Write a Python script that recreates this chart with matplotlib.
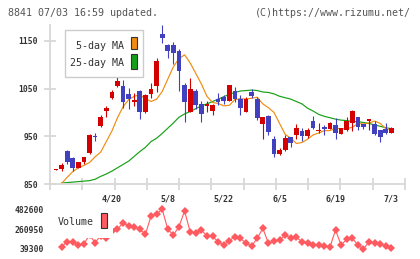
import matplotlib
matplotlib.use("Agg")
import matplotlib.pyplot as plt
import matplotlib.transforms as mtransforms
from matplotlib.patches import Rectangle
import numpy as np

# ---------------- data ----------------
opens = [879, 881, 919, 905, 884, 897, 914, 950, 972, 1003,
         1031, 1056, 1056, 1038, 1021, 1045, 1000, 1039, 1056, 1164,
         1141, 1142, 1129, 1058, 1002, 1045, 1018, 1014, 1004, 1028,
         1033, 1025, 1045, 1028, 1002, 1042, 1028, 975, 993, 944,
         913, 921, 948, 953, 961, 951, 982, 962, 969, 965,
         974, 955, 963, 977, 991, 976, 982, 975, 963, 965, 958]
highs = [881, 893, 921, 907, 897, 907, 955, 958, 995, 1014,
         1047, 1079, 1068, 1052, 1040, 1047, 1038, 1061, 1115, 1183,
         1144, 1148, 1133, 1061, 1072, 1049, 1025, 1025, 1018, 1040,
         1037, 1058, 1054, 1037, 1032, 1049, 1032, 991, 994, 951,
         925, 953, 949, 976, 967, 967, 993, 977, 974, 980,
         989, 967, 991, 1005, 991, 976, 986, 982, 964, 977, 969]
lows = [879, 877, 891, 877, 883, 892, 912, 940, 969, 991,
        1028, 1053, 1009, 1007, 1014, 986, 999, 1031, 1044, 1146,
        1114, 1101, 1045, 979, 1000, 1007, 981, 1000, 995, 1016,
        1018, 1024, 1021, 995, 1000, 1030, 984, 944, 953, 907,
        911, 920, 928, 944, 940, 947, 965, 956, 953, 965,
        944, 955, 961, 961, 963, 965, 963, 953, 939, 955, 957]
closes = [881, 890, 897, 884, 896, 906, 953, 948, 990, 1010,
          1044, 1066, 1023, 1028, 1026, 1000, 1037, 1049, 1107, 1157,
          1128, 1125, 1086, 1023, 1049, 1016, 997, 1018, 1016, 1021,
          1024, 1058, 1028, 1010, 1028, 1035, 989, 990, 959, 912,
          921, 946, 937, 967, 951, 963, 967, 963, 965, 977,
          956, 967, 982, 1003, 970, 970, 986, 955, 949, 958, 967]

# moving averages (index 1..60)
ma5 = [851, 864, 876, 884, 889, 895, 907, 917, 939, 961,
       989, 1012, 1027, 1034, 1037, 1029, 1023, 1028, 1044, 1070,
       1096, 1113, 1121, 1104, 1082, 1060, 1034, 1021, 1019, 1014,
       1015, 1027, 1029, 1028, 1030, 1032, 1018, 1010, 1000, 977,
       954, 946, 935, 937, 944, 953, 957, 962, 962, 967,
       966, 966, 969, 977, 976, 978, 982, 977, 966, 964]
ma25 = [852, 853, 854, 855, 856, 857, 860, 866, 871, 877,
        884, 891, 898, 908, 918, 927, 939, 946, 956, 967,
        978, 990, 997, 1002, 1008, 1014, 1018, 1023, 1028, 1033,
        1038, 1042, 1045, 1046, 1047, 1046, 1043, 1042, 1039, 1034,
        1031, 1028, 1023, 1018, 1009, 1003, 996, 992, 989, 986,
        984, 983, 981, 981, 979, 977, 974, 971, 968, 966]

# volume (index 1..60)
volumes = [65000, 120800, 114100, 84000, 95100, 195600, 109600, 190000, 165500, 240000,
           259300, 333000, 296100, 290000, 259300, 203400, 407800, 430100, 482600, 259300,
           195600, 288300, 463600, 232500, 214600, 251500, 184500, 180000, 120800, 84000,
           134200, 176600, 158800, 102900, 72800, 158800, 270400, 102900, 128600, 139800,
           195600, 158800, 169900, 120800, 102900, 84000, 86000, 72800, 58300, 251500,
           84000, 147600, 158800, 84000, 39300, 120800, 102900, 95100, 72800, 47100]

date_labels = ["4/20", "5/8", "5/22", "6/5", "6/19", "7/3"]
date_label_idx = [10, 20, 30, 40, 50, 60]
price_ticks = [850, 950, 1050, 1150]
vol_ticks = [39300, 260950, 482600]
header_left = "8841 07/03 16:59 updated."
header_right = "(C)https://www.rizumu.net/"
legend_labels = ["5-day MA", "25-day MA"]
vol_label = "Volume"

# ---------------- style ----------------
W, H = 420, 259
def fx(x): return x / W
def fy(y): return 1 - y / H

RED = "#d40000"
BLUE = "#4141bf"
ORANGE = "#f08c10"
GREEN = "#16a016"
VOLC = "#ff5a60"
GRID = "#d8d8d8"
TXT = "#333333"
MONO = "DejaVu Sans Mono"

fig = plt.figure(figsize=(W / 100, H / 100), dpi=100)
fig.patch.set_facecolor("white")

XLIM = (-1.07, 62.43)

# price axes
ax = fig.add_axes([fx(50), fy(184), 355 / W, 159 / H])
ax.set_xlim(*XLIM)
ax.set_ylim(850, 1183.5)
for s in ["top", "right"]:
    ax.spines[s].set_visible(False)
for s in ["left", "bottom"]:
    ax.spines[s].set_color(GRID)
    ax.spines[s].set_linewidth(1.3)
ax.set_xticks(np.linspace(XLIM[0], XLIM[1], 12))
ax.set_xticklabels([])
ax.set_yticks(price_ticks)
ax.set_yticklabels([str(t) for t in price_ticks], fontsize=5.8, family=MONO,
                   color=TXT, fontweight="bold")
ax.tick_params(axis="both", direction="inout", length=8, width=1.3, color=GRID)
ax.tick_params(axis="y", pad=4.6)

idx = np.arange(len(opens))
bw = 0.84
for i in idx:
    o, h, l, c = opens[i], highs[i], lows[i], closes[i]
    col = RED if c >= o else BLUE
    ax.vlines(i, l, h, color=col, lw=0.8, zorder=3)
    bot = min(o, c)
    ht = max(abs(c - o), 2.0)
    ax.add_patch(Rectangle((i - bw / 2, bot), bw, ht, facecolor=col,
                           edgecolor="none", zorder=3))

ma_idx = np.arange(1, len(ma5) + 1)
ax.plot(ma_idx, ma25, color=GREEN, lw=0.85, zorder=2)
ax.plot(ma_idx, ma5, color=ORANGE, lw=0.85, zorder=2)

# date labels
trans = mtransforms.blended_transform_factory(ax.transData, fig.transFigure)
for i, lab in zip(date_label_idx, date_labels):
    ax.text(i, fy(198.5), lab, transform=trans, ha="center", va="center",
            fontsize=6.0, family=MONO, color=TXT, fontweight="bold")

# price legend
fig.patches.append(Rectangle((fx(65), fy(77)), 78 / W, 47 / H, transform=fig.transFigure,
                             facecolor="white", edgecolor="#cccccc", lw=1.0, zorder=5))
fig.text(fx(124), fy(46), legend_labels[0], ha="right", va="center", fontsize=7.2,
         family=MONO, color=TXT, zorder=6)
fig.text(fx(124), fy(63.3), legend_labels[1], ha="right", va="center", fontsize=7.2,
         family=MONO, color=TXT, zorder=6)
fig.patches.append(Rectangle((fx(131), fy(49)), 6.3 / W, 11.7 / H, transform=fig.transFigure,
                             facecolor=ORANGE, edgecolor="#333333", lw=0.8, zorder=6))
fig.patches.append(Rectangle((fx(131), fy(69)), 6.3 / W, 14.7 / H, transform=fig.transFigure,
                             facecolor=GREEN, edgecolor="#333333", lw=0.8, zorder=6))

# volume axes
axv = fig.add_axes([fx(50), fy(249), 355 / W, 39.7 / H])
axv.set_xlim(*XLIM)
axv.set_ylim(vol_ticks[0], vol_ticks[-1])
for s in axv.spines.values():
    s.set_visible(False)
axv.set_xticks([])
axv.set_yticks(vol_ticks)
axv.set_yticklabels([str(t) for t in vol_ticks], fontsize=5.8, family=MONO,
                    color=TXT, fontweight="bold")
axv.tick_params(axis="y", length=0, pad=4.3)
vol_idx = np.arange(1, len(volumes) + 1)
axv.plot(vol_idx, volumes, color=VOLC, lw=0.8, marker="D", ms=4.2,
         markeredgewidth=0, clip_on=False, zorder=2)
axv.add_patch(Rectangle((fx(54), fy(237.5)), 59 / W, 31 / H, transform=fig.transFigure,
                        facecolor="white", edgecolor="none", clip_on=False, zorder=5))
axv.text(fx(58), fy(222.3), vol_label, transform=fig.transFigure, ha="left", va="center",
         fontsize=7.2, family=MONO, color=TXT, zorder=6)
axv.add_patch(Rectangle((fx(101), fy(228.3)), 6.3 / W, 15.6 / H, transform=fig.transFigure,
                        facecolor=VOLC, edgecolor="#333333", lw=0.8, clip_on=False, zorder=6))

# header
fig.text(fx(8), fy(12.7), header_left, ha="left", va="center", fontsize=7.2,
         family=MONO, color="#555555")
fig.text(fx(411), fy(12.7), header_right, ha="right", va="center", fontsize=7.2,
         family=MONO, color="#555555")

fig.savefig("out.png", dpi=100, facecolor="white")
